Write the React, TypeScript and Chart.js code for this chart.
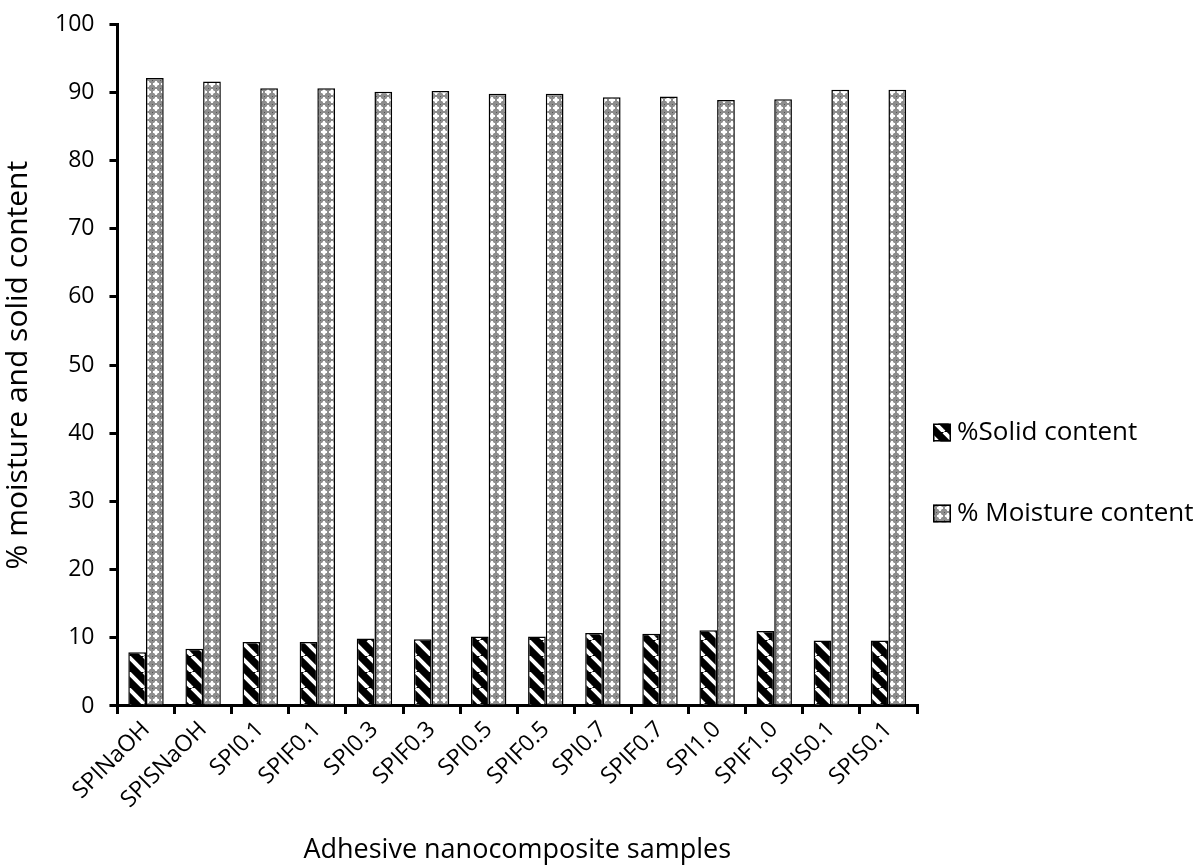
import React, { useEffect, useRef } from 'react';
import { Chart, registerables } from 'chart.js';

Chart.register(...registerables);

const categories = ['SPINaOH', 'SPISNaOH', 'SPI0.1', 'SPIF0.1', 'SPI0.3', 'SPIF0.3', 'SPI0.5', 'SPIF0.5', 'SPI0.7', 'SPIF0.7', 'SPI1.0', 'SPIF1.0', 'SPIS0.1', 'SPIS0.1'];
const solidContent = [7.9, 8.4, 9.4, 9.4, 9.9, 9.8, 10.2, 10.2, 10.7, 10.6, 11.1, 11.0, 9.6, 9.6];
const moistureContent = [92.1, 91.6, 90.6, 90.6, 90.1, 90.2, 89.8, 89.8, 89.3, 89.4, 88.9, 89.0, 90.4, 90.4];
const seriesLabels = ['%Solid content', '% Moisture content'];
const yMin = 0;
const yMax = 100;
const yStep = 10;

const FONT = '"Open Sans", "Liberation Sans", sans-serif';

function makeStripePattern(): CanvasPattern | string {
  const s = 16;
  const c = document.createElement('canvas');
  c.width = s; c.height = s;
  const g = c.getContext('2d');
  if (!g) return '#000';
  g.fillStyle = '#000';
  g.fillRect(0, 0, s, s);
  g.strokeStyle = '#fff';
  g.lineWidth = 4;
  for (let k = -1; k <= 1; k++) {
    g.beginPath();
    g.moveTo(k * s, 0);
    g.lineTo(k * s + s, s);
    g.stroke();
  }
  const p = g.createPattern(c, 'repeat');
  return p || '#000';
}

function makeDotPattern(): CanvasPattern | string {
  const s = 8;
  const c = document.createElement('canvas');
  c.width = s; c.height = s;
  const g = c.getContext('2d');
  if (!g) return '#999';
  g.fillStyle = '#8e8e8e';
  g.fillRect(0, 0, s, s);
  g.fillStyle = '#cccccc';
  g.fillRect(2, 2, 4, 4);
  g.fillStyle = '#ffffff';
  g.fillRect(3, 1, 2, 6);
  g.fillRect(1, 3, 6, 2);
  g.fillStyle = '#555';
  g.fillRect(0, 0, 1, 1);
  const p = g.createPattern(c, 'repeat');
  return p || '#999';
}

const sideLegend = {
  id: 'sideLegend',
  afterDraw(chart: any) {
    const { ctx, chartArea } = chart;
    const x = chartArea.right + 16;
    const base = chart.height / 2 - 1;
    const gap = 81;
    const box = 18;
    ctx.save();
    chart.data.datasets.forEach((ds: any, i: number) => {
      const y = base + i * gap;
      ctx.fillStyle = ds.backgroundColor;
      ctx.fillRect(x, y - box / 2, box, box);
      ctx.strokeStyle = '#000';
      ctx.lineWidth = 1.5;
      ctx.strokeRect(x + 0.75, y - box / 2 + 0.75, box - 1.5, box - 1.5);
      ctx.fillStyle = '#000';
      ctx.font = `26px ${FONT}`;
      ctx.textBaseline = 'middle';
      ctx.textAlign = 'left';
      ctx.fillText(ds.label, x + box + 6, y);
    });
    ctx.restore();
  },
};

export default function App() {
  const ref = useRef<HTMLCanvasElement | null>(null);
  useEffect(() => {
    document.body.style.margin = '0';
    const canvas = ref.current;
    if (!canvas) return;
    const chart = new Chart(canvas, {
      type: 'bar',
      data: {
        labels: categories,
        datasets: [
          {
            label: seriesLabels[0],
            data: solidContent,
            backgroundColor: makeStripePattern() as any,
            borderColor: '#000',
            borderWidth: 1.5,
            categoryPercentage: 0.62,
            barPercentage: 1,
          },
          {
            label: seriesLabels[1],
            data: moistureContent,
            backgroundColor: makeDotPattern() as any,
            borderColor: '#000',
            borderWidth: 1.5,
            categoryPercentage: 0.62,
            barPercentage: 1,
          },
        ],
      },
      options: {
        animation: false,
        responsive: false,
        devicePixelRatio: 1,
        layout: { padding: { top: 2, right: 278, bottom: 0, left: 0 } },
        plugins: {
          legend: { display: false },
          tooltip: { enabled: false },
        },
        scales: {
          x: {
            grid: { offset: true, drawOnChartArea: false, drawTicks: true, tickLength: 8, color: '#000', lineWidth: 3 },
            border: { display: true, color: '#000', width: 3 },
            ticks: { color: '#000', font: { family: FONT, size: 23 }, minRotation: 45, maxRotation: 45, autoSkip: false, padding: 2 },
            title: { display: true, text: 'Adhesive nanocomposite samples', color: '#000', font: { family: FONT, size: 27 }, padding: { top: 19, bottom: 0 } },
          },
          y: {
            min: yMin,
            max: yMax,
            grid: { drawOnChartArea: false, drawTicks: true, tickLength: 8, color: '#000', lineWidth: 3 },
            border: { display: true, color: '#000', width: 3 },
            ticks: { stepSize: yStep, color: '#000', font: { family: FONT, size: 23, lineHeight: 0.8 }, padding: 15 },
            title: { display: true, text: '% moisture and solid content', color: '#000', font: { family: FONT, size: 30 }, padding: { top: 0, bottom: 4 } },
          },
        },
      },
      plugins: [sideLegend],
    });
    return () => chart.destroy();
  }, []);
  return (
    <div style={{ width: 1195, height: 867 }}>
      <canvas ref={ref} width={1195} height={867} style={{ display: 'block' }} />
    </div>
  );
}
